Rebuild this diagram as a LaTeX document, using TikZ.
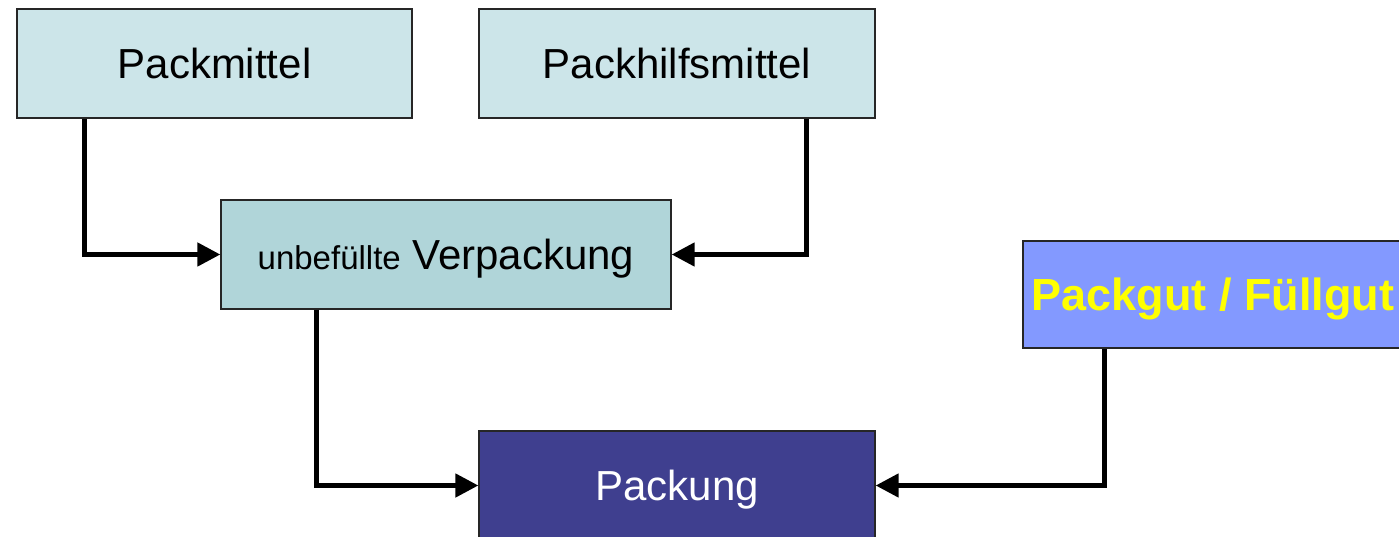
\documentclass[tikz,border=0pt]{standalone}
\usepackage{fontspec}
\setmainfont{Liberation Sans}
\usetikzlibrary{arrows.meta}
\definecolor{lightbox}{HTML}{CCE5E9}
\definecolor{midbox}{HTML}{B0D5D9}
\definecolor{gutbox}{HTML}{8399FF}
\definecolor{packbox}{HTML}{3F3F8F}
\definecolor{gutyellow}{HTML}{FFFF00}
\tikzset{
  box/.style={draw=black!85, line width=1.3pt, rectangle, inner sep=0pt,
    minimum height=109pt, text height=30pt, text depth=0pt,
    font=\fontsize{42}{50}\selectfont},
  conn/.style={line width=4.8pt, line join=miter, -{Triangle[length=23pt,width=23pt]}}
}
\begin{document}
\begin{tikzpicture}[x=1pt,y=-1pt]
\path[use as bounding box, clip] (0,0) rectangle (1399,537);
\fill[white] (0,0) rectangle (1399,537);
\node[box, fill=lightbox, minimum width=395pt] (pm) at (214.5,63.5) {Packmittel};
\node[box, fill=lightbox, minimum width=396pt] (ph) at (677,63.5) {Packhilfsmittel};
\node[box, fill=midbox, minimum width=450pt] (vp) at (446,254.5)
  {{\fontsize{33}{40}\selectfont unbefüllte} Verpackung};
\node[box, fill=gutbox, minimum width=400pt, minimum height=107pt,
  text height=32.2pt, text=gutyellow,
  font=\fontsize{45}{54}\selectfont\bfseries] (pg) at (1223,294.5) {Packgut / Füllgut\rule{20pt}{0pt}};
\node[box, fill=packbox, text=white, minimum width=396pt] (pk) at (677,485.5) {Packung};
\draw[conn] ([xshift=68pt]pm.south west) |- (vp.west);
\draw[conn] ([xshift=-69pt]ph.south east) |- (vp.east);
\draw[conn] ([xshift=96pt]vp.south west) |- (pk.west);
\draw[conn] ([xshift=82pt]pg.south west) |- (pk.east);
\end{tikzpicture}
\end{document}
